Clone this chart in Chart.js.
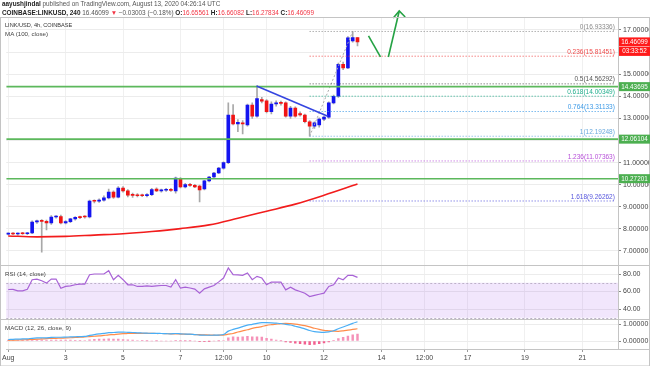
<!DOCTYPE html>
<html><head><meta charset="utf-8">
<script src="https://cdn.jsdelivr.net/npm/chart.js@4.4.0/dist/chart.umd.min.js"></script>
<style>
html,body{margin:0;padding:0;background:#fff;}
#wrap{position:relative;width:650px;height:366px;overflow:hidden;font-family:"Liberation Sans",Arial,sans-serif;}
canvas{position:absolute;left:0;top:0;}
.hdr{position:absolute;left:2px;white-space:nowrap;font-size:6.4px;line-height:8px;color:#555;}
.hdr b{color:#222;}
.r{color:#f23645;}
.lg{position:absolute;left:5px;white-space:nowrap;font-size:6.2px;line-height:8px;color:#444;}
</style></head>
<body><div id="wrap"><canvas id="c" width="650" height="366"></canvas>
<div class="hdr" style="top:0px"><b>aayushjindal</b> published on TradingView.com, August 13, 2020 04:26:14 UTC</div>
<div class="hdr" style="top:8.5px"><b>COINBASE:LINKUSD, 240</b> 16.46099 <span class="r">▼</span> −0.03003 (−0.18%) <b>O:</b><span class="r">16.65561</span> <b>H:</b><span class="r">16.66082</span> <b>L:</b><span class="r">16.27834</span> <b>C:</b><span class="r">16.46099</span></div>
<div class="lg" style="top:21px;color:#333;font-size:5.6px">LINK/USD, 4h, COINBASE</div>
<div class="lg" style="top:30px">MA (100, close)</div>
<div class="lg" style="top:270px">RSI (14, close)</div>
<div class="lg" style="top:324px">MACD (12, 26, close, 9)</div>
</div>
<script>
// ---- data (candle index 0 = Aug 1 00:00, 4h candles) ----
const opens = [7.76,7.79,7.77,7.80,7.78,7.82,8.31,8.36,8.34,8.27,
8.54,8.56,8.27,8.33,8.45,8.53,8.56,8.54,9.27,9.25,
9.30,9.40,9.67,9.44,9.85,9.72,9.55,9.53,9.52,9.50,
9.55,9.80,9.72,9.75,9.79,9.72,10.26,9.90,10.02,9.97,
9.94,9.81,10.17,10.35,10.53,10.75,11.00,13.15,12.75,12.80,
12.70,13.60,13.10,13.85,13.80,13.30,13.65,13.72,13.70,13.10,
13.47,13.22,13.15,12.85,12.65,12.70,12.97,13.06,13.70,14.00,
15.45,15.28,16.50,16.656];
const highs = [7.82,7.83,7.82,7.84,7.84,8.36,8.40,8.42,8.40,8.60,
8.60,8.62,8.38,8.48,8.56,8.58,8.60,9.30,9.32,9.36,
9.50,9.80,9.72,9.92,9.92,9.78,9.62,9.60,9.58,9.60,
9.84,9.86,9.80,9.84,9.84,10.34,10.32,10.06,10.06,10.02,
9.98,10.20,10.38,10.56,10.78,11.04,13.70,13.62,12.95,12.90,
13.65,13.70,14.47,13.95,13.85,13.75,13.80,13.78,13.75,13.55,
13.52,13.30,13.20,12.90,12.85,13.02,13.10,13.75,14.05,15.50,
15.55,16.70,16.93,16.661];
const lows = [7.73,7.74,7.72,7.75,7.74,7.78,8.25,6.95,7.95,8.20,
8.48,8.22,8.22,8.28,8.40,8.46,8.48,8.50,9.18,9.20,
9.25,9.36,9.38,9.40,9.66,9.45,9.42,9.45,9.46,9.45,
9.50,9.68,9.66,9.70,9.70,9.62,9.85,9.85,9.92,9.86,
9.22,9.76,10.12,10.30,10.50,10.70,10.95,12.70,12.40,12.30,
12.65,13.00,13.05,13.70,13.25,13.20,13.55,13.60,13.05,13.00,
13.05,13.10,12.80,12.19,12.55,12.60,12.90,13.00,13.65,13.95,
15.20,15.25,16.45,16.278];
const closes = [7.79,7.77,7.80,7.78,7.82,8.31,8.36,8.34,8.27,8.54,
8.56,8.27,8.33,8.45,8.52,8.51,8.54,9.26,9.25,9.30,
9.40,9.67,9.44,9.85,9.72,9.53,9.52,9.50,9.50,9.55,
9.78,9.72,9.75,9.79,9.74,10.30,9.90,10.01,9.97,9.90,
9.76,10.17,10.35,10.53,10.75,11.00,13.15,12.75,12.82,12.75,
13.60,13.10,13.90,13.78,13.30,13.65,13.70,13.68,13.10,13.47,
13.10,13.16,12.85,12.65,12.80,12.97,13.06,13.70,14.00,15.45,
15.28,16.64,16.66,16.461];
const maIdx  = [0,6,12,18,24,30,36,42,48,54,60,66,73];
const maVals = [7.68,7.64,7.66,7.72,7.78,7.88,8.01,8.18,8.48,8.80,9.12,9.52,10.03];
const rsiVals = [62.3,62.5,60.8,60.8,62.5,73.5,74.2,72.3,69.6,74.2,
74.2,63.8,65.8,66.5,67.7,68.5,68.5,79.2,80,80,
80,83.8,73.5,78.5,73.5,67.7,67.7,65.8,65.8,66.5,
65.8,66.5,66.9,66.9,65.0,73.5,63.8,65,64,62.7,
58.1,63,65,66.9,71,75.4,86.9,79.2,79,78.5,
81.2,73.5,77.3,75.4,67.7,70.8,70.8,70.8,61.9,65,
61.9,60,58,54.2,55.5,56.9,58.1,65.8,67.7,75.4,
73.5,78.5,78.5,76.2];
const macdVals = [0.09,0.10,0.11,0.12,0.13,0.16,0.18,0.19,0.19,0.21,
0.22,0.22,0.23,0.24,0.25,0.26,0.27,0.33,0.38,0.42,
0.45,0.49,0.50,0.52,0.52,0.51,0.50,0.48,0.47,0.46,
0.45,0.45,0.44,0.43,0.42,0.44,0.42,0.41,0.40,0.38,
0.35,0.34,0.34,0.34,0.35,0.38,0.58,0.68,0.76,0.85,
0.93,0.98,1.04,1.08,1.08,1.07,1.05,1.03,0.98,0.94,
0.87,0.80,0.71,0.62,0.55,0.52,0.51,0.54,0.60,0.72,
0.82,0.93,1.04,1.13];
const signalVals = [0.04,0.05,0.06,0.07,0.08,0.09,0.11,0.12,0.14,0.15,
0.16,0.17,0.18,0.19,0.21,0.22,0.24,0.26,0.28,0.30,
0.33,0.36,0.38,0.41,0.43,0.44,0.45,0.45,0.45,0.45,
0.45,0.44,0.44,0.43,0.42,0.42,0.41,0.40,0.39,0.38,
0.37,0.36,0.35,0.34,0.34,0.35,0.40,0.44,0.53,0.60,
0.66,0.74,0.80,0.85,0.92,0.96,0.99,1.02,1.04,1.02,
0.99,0.95,0.90,0.83,0.75,0.68,0.62,0.60,0.58,0.57,
0.60,0.64,0.68,0.72];
const histVals = [0.05,0.05,0.05,0.05,0.05,0.07,0.07,0.07,0.05,0.06,
0.06,0.05,0.05,0.05,0.04,0.04,0.03,0.07,0.10,0.12,
0.12,0.13,0.12,0.11,0.09,0.07,0.05,0.03,0.02,0.01,
0.00,0.01,0.00,0.00,0.00,0.02,0.01,0.01,0.01,0.00,
-0.02,-0.02,-0.01,0.00,0.01,0.03,0.18,0.24,0.23,0.25,
0.27,0.24,0.24,0.23,0.16,0.11,0.06,0.01,-0.06,-0.08,
-0.12,-0.15,-0.19,-0.21,-0.20,-0.16,-0.11,-0.06,0.02,0.15,
0.22,0.29,0.36,0.41];
const timeTickIdx    = [0,12,24,36,45,54,66,78,87,96,108,120];
const timeTickLabels = ['Aug','3','5','7','12:00','10','12','14','12:00','17','19','21'];
const priceTicks = [7,8,9,10,11,12,13,14,15,16,17];
const rsiTicks = [40,60,80];
const rsiBand = [30,70];
const macdTicks = [0,1];
const levelLines = [14.43695, 12.06104, 10.27201];
const fibLevels = ['0','0.236','0.5','0.618','0.764','1','1.236','1.618'];
const fibPrices = [16.93336,15.81451,14.56292,14.00349,13.31133,12.19248,11.07363,9.26262];
const fibColors = ['#8a8a8a','#ef4a4a','#555555','#1fae8c','#3d9ae6','#6aaade','#b64fd8','#5757dd'];
const fibStartIdx = 63, fibEndIdx = 126.8;
const fibDiagIdx = [63,72], fibDiagPrice = [12.19248,16.93336];
const trendIdx = [51.9,66.8], trendPrice = [14.47,13.10];
const arrowAIdx = [75.3,77.8], arrowAPrice = [16.73,15.78];
const arrowBIdx = [79.45,81.73], arrowBPrice = [15.78,17.86];
const arrowHeadIdx = [80.48,81.73,82.97], arrowHeadPrice = [17.54,17.86,17.59];
const lastPrice = 16.46099, countdown = '03:33:52';

// ---- chart ----
Chart.defaults.font.family = '"Liberation Sans", Arial, sans-serif';
const XMIN = -0.414, XMAX = 127.45;
const up = '#1414f0', dn = '#f01414';
const pts = (xs, ys) => xs.map((x,i)=>({x, y: ys[i]}));
const idx = closes.map((_,i)=>i);

const datasets = [];
datasets.push({type:'bar', yAxisID:'y', data: idx.map(i=>({x:i, y:[lows[i], highs[i]]})),
  backgroundColor:'#a8a8a8', barThickness:1, grouped:false, order:20});
datasets.push({type:'bar', yAxisID:'y', data: idx.map(i=>({x:i, y:[opens[i], closes[i]]})),
  backgroundColor: idx.map(i=> closes[i]>=opens[i]?up:dn), barThickness:3, minBarLength:1, grouped:false, order:19});
datasets.push({type:'line', yAxisID:'y', data: pts(maIdx, maVals), borderColor:'#f21c1c', borderWidth:1.6,
  pointRadius:0, cubicInterpolationMode:'monotone', order:15});
levelLines.forEach(v=> datasets.push({type:'line', yAxisID:'y', data: pts([XMIN,XMAX],[v,v]),
  borderColor:'#5cb85c', borderWidth:1.6, pointRadius:0, order:5}));
fibPrices.forEach((v,k)=> datasets.push({type:'line', yAxisID:'y', data: pts([fibStartIdx,fibEndIdx],[v,v]),
  borderColor: fibColors[k], borderWidth:1, borderDash:[1,2], pointRadius:0, order:6}));
datasets.push({type:'line', yAxisID:'y', data: pts(fibDiagIdx, fibDiagPrice), borderColor:'#aaaaaa', borderWidth:1,
  borderDash:[2,2], pointRadius:0, order:6});
datasets.push({type:'line', yAxisID:'y', data: pts(trendIdx, trendPrice), borderColor:'#3545e0', borderWidth:1.6,
  pointRadius:0, order:4});
[[arrowAIdx,arrowAPrice],[arrowBIdx,arrowBPrice],[arrowHeadIdx,arrowHeadPrice]].forEach(a=>
  datasets.push({type:'line', yAxisID:'y', data: pts(a[0],a[1]), borderColor:'#25a244', borderWidth:1.6,
  pointRadius:0, clip:false, order:3}));
datasets.push({type:'line', yAxisID:'yR', data: pts(idx, rsiVals), borderColor:'#a862d6', borderWidth:1.2,
  pointRadius:0, order:10});
datasets.push({type:'bar', yAxisID:'yM', data: pts(idx, histVals),
  backgroundColor: histVals.map(v=> v>=0?'#f592b8':'#f25f8e'), barThickness:1.8, grouped:false, order:12});
datasets.push({type:'line', yAxisID:'yM', data: pts(idx, macdVals), borderColor:'#4aaef5', borderWidth:1.2,
  pointRadius:0, tension:0.3, order:9});
datasets.push({type:'line', yAxisID:'yM', data: pts(idx, signalVals), borderColor:'#ff8c4a', borderWidth:1.2,
  pointRadius:0, tension:0.3, order:9});

const tickFont = {size:7};
const gridC = '#ececec';
function yAxis(stackWeight, min, max, ticks, dec){
  return {type:'linear', position:'right', stack:'panes', stackWeight, min, max, offset:false,
    afterBuildTicks: s=>{ s.ticks = ticks.map(v=>({value:v})); },
    afterFit: s=>{ s.width = 32; },
    ticks:{font:tickFont, color:'#444', padding:2, callback: v=> Number(v).toFixed(dec)},
    grid:{color:gridC, tickLength:3, tickColor:'#888', drawTicks:true},
    border:{color:'#c4c4c4'}};
}

const overlay = {
  id:'overlay',
  beforeDatasetsDraw(chart){
    const {ctx, chartArea:ca, scales} = chart;
    const t = scales.yR.getPixelForValue(rsiBand[1]), b = scales.yR.getPixelForValue(rsiBand[0]);
    ctx.save();
    ctx.fillStyle='rgba(160,90,235,0.15)';
    ctx.fillRect(ca.left, t, ca.right-ca.left, b-t);
    ctx.setLineDash([2,2]); ctx.strokeStyle='#bdb2c9'; ctx.lineWidth=1;
    [t,b].forEach(y=>{ctx.beginPath(); ctx.moveTo(ca.left, Math.round(y)+0.5); ctx.lineTo(ca.right, Math.round(y)+0.5); ctx.stroke();});
    ctx.restore();
  },
  afterDraw(chart){
    const {ctx, chartArea:ca, scales} = chart;
    const ys = scales.y, xs = scales.x;
    ctx.save();
    ctx.font = '6.5px "Liberation Sans", Arial, sans-serif';
    ctx.textAlign='right'; ctx.textBaseline='bottom';
    const xr = xs.getPixelForValue(fibEndIdx);
    fibPrices.forEach((v,k)=>{
      ctx.fillStyle = fibColors[k];
      ctx.fillText(fibLevels[k]+'('+v.toFixed(5)+')', xr, ys.getPixelForValue(v)-1);
    });
    ctx.strokeStyle='#c4c4c4'; ctx.lineWidth=1;
    const sepR = scales.yR.top, sepM = scales.yM.top;
    [sepR, sepM].forEach(y=>{ctx.beginPath(); ctx.moveTo(0, Math.round(y)+0.5); ctx.lineTo(650, Math.round(y)+0.5); ctx.stroke();});
    ctx.beginPath(); ctx.moveTo(ca.right, Math.round(ca.bottom)+0.5); ctx.lineTo(650, Math.round(ca.bottom)+0.5); ctx.stroke();
    ctx.strokeRect(0.5, ca.top+0.5, 649, 365.5-ca.top);
    ctx.textAlign='center'; ctx.textBaseline='middle';
    ctx.font = '6.3px "Liberation Sans", Arial, sans-serif';
    const bx = ca.right+1, bw = 31, cx = bx + bw/2;
    levelLines.forEach(v=>{
      const y = ys.getPixelForValue(v);
      ctx.fillStyle='#4caf50'; ctx.fillRect(bx, y-4.5, bw, 9);
      ctx.fillStyle='#fff'; ctx.fillText(v.toFixed(5), cx, y+0.5);
    });
    const yp = ys.getPixelForValue(lastPrice);
    ctx.fillStyle='#ff1a1a'; ctx.fillRect(bx, yp-4.5, bw, 9); ctx.fillRect(bx, yp+5, bw, 9);
    ctx.fillStyle='#fff';
    ctx.fillText(lastPrice.toFixed(5), cx, yp+0.5);
    ctx.fillText(countdown, cx, yp+9.5);
    ctx.restore();
  }
};

new Chart(document.getElementById('c'), {
  type:'line',
  data:{datasets},
  options:{
    responsive:false, animation:false, events:[],
    layout:{padding:{top:17, left:0, right:0, bottom:0}},
    plugins:{legend:{display:false}, tooltip:{enabled:false}},
    scales:{
      x:{type:'linear', position:'bottom', min:XMIN, max:XMAX, offset:false,
        afterBuildTicks: s=>{ s.ticks = timeTickIdx.map(v=>({value:v})); },
        afterFit: s=>{ s.height = 17; },
        ticks:{font:tickFont, color:'#444', autoSkip:false, maxRotation:0, padding:2,
          callback:(v,i)=> timeTickLabels[i]},
        grid:{color:'#f0f0f0', offset:false, tickLength:3, tickColor:'#999'},
        border:{color:'#c4c4c4'}},
      y: yAxis(248, 6.366, 17.588, priceTicks, 5),
      yR: yAxis(54, 28.6, 90.3, rsiTicks, 2),
      yM: yAxis(30, -0.47, 1.294, macdTicks, 5)
    }
  },
  plugins:[overlay]
});
</script>
</body></html>
